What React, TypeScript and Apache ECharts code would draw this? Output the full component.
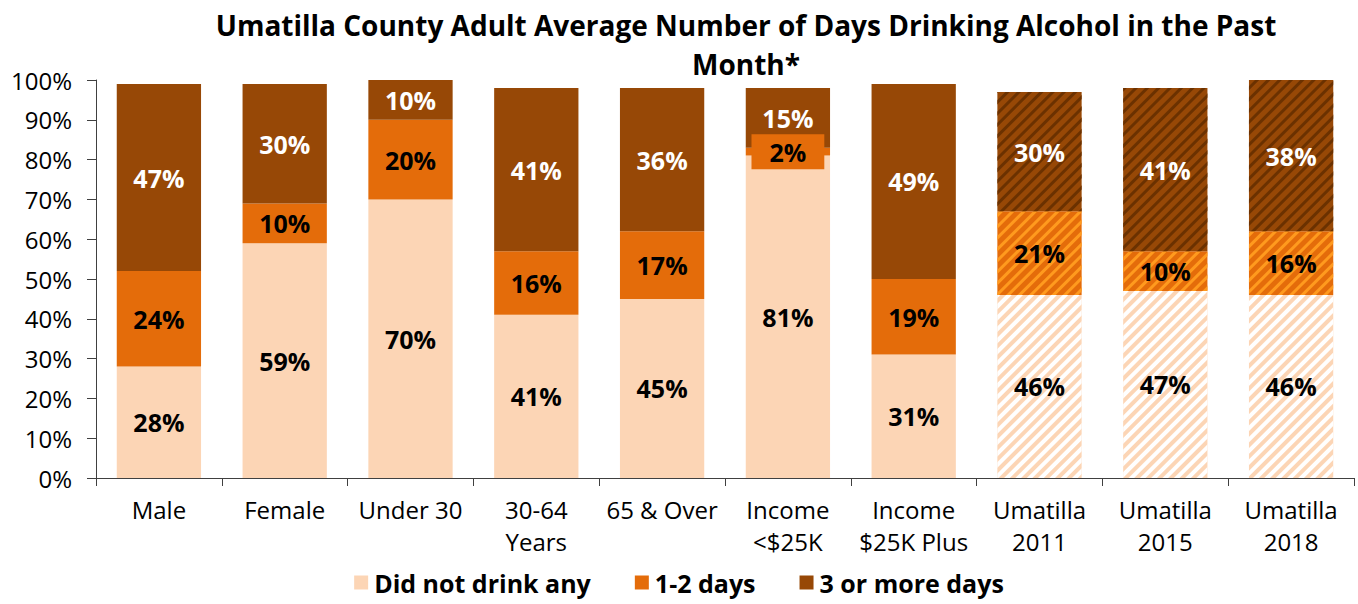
import React, { useEffect, useRef } from "react";
import * as echarts from "echarts";

const categories = ["Male", "Female", "Under 30", "30-64\nYears", "65 & Over", "Income\n<$25K", "Income\n$25K Plus", "Umatilla\n2011", "Umatilla\n2015", "Umatilla\n2018"];
const didNotDrink = [28, 59, 70, 41, 45, 81, 31, 46, 47, 46];
const oneTwoDays = [24, 10, 20, 16, 17, 2, 19, 21, 10, 16];
const threePlus = [47, 30, 10, 41, 36, 15, 49, 30, 41, 38];
const hatchedIdx = [7, 8, 9];
const yTicks = [0, 10, 20, 30, 40, 50, 60, 70, 80, 90, 100];
const titleLines = ["Umatilla County Adult Average Number of Days Drinking Alcohol in the Past", "Month*"];

const FONT = "Open Sans";
const C_LIGHT = "#FCD5B5";
const C_MID = "#E46C0A";
const C_DARK = "#974806";
const AXIS = "#404040";

function decal(color: string, dash: number[]) {
  return {
    symbol: "rect",
    symbolSize: 1,
    dashArrayX: [1, 0],
    dashArrayY: dash,
    rotation: -Math.PI / 4,
    color,
  };
}

function buildData(vals: number[], stripe: string, dash: number[], extra?: (i: number) => any) {
  return vals.map((v, i) => {
    const item: any = { value: v };
    if (hatchedIdx.includes(i)) item.itemStyle = { decal: decal(stripe, dash) };
    if (extra) {
      const e = extra(i);
      if (e) Object.assign(item, e);
    }
    return item;
  });
}

export default function App() {
  const ref = useRef<HTMLDivElement>(null);
  useEffect(() => {
    const chart = echarts.init(ref.current!, undefined, { renderer: "svg" });
    const labelBase = {
      show: true,
      position: "inside",
      fontFamily: FONT,
      fontWeight: "bold",
      fontSize: 25,
      formatter: (p: any) => p.value + "%",
    };
    const titleStyle = { fontFamily: FONT, fontWeight: "bold", fontSize: 28, lineHeight: 28, color: "#000" };
    chart.setOption({
      animation: false,
      textStyle: { fontFamily: FONT },
      title: titleLines.map((t, i) => ({
        text: t,
        left: 746,
        textAlign: "center",
        top: 11 + i * 39,
        padding: 0,
        textStyle: titleStyle,
      })),
      legend: {
        top: 570,
        left: "center",
        itemWidth: 14,
        itemHeight: 14,
        itemGap: 44,
        icon: "rect",
        padding: 0,
        textStyle: { fontFamily: FONT, fontWeight: "bold", fontSize: 25, color: "#000", padding: [0, 0, 0, 1] },
        data: ["Did not drink any", "1-2 days", "3 or more days"],
      },
      grid: { left: 96, right: 4, top: 80, bottom: 126, containLabel: false },
      xAxis: {
        type: "category",
        data: categories,
        axisLine: { show: true, lineStyle: { color: AXIS } },
        axisTick: { show: true, length: 8, lineStyle: { color: AXIS } },
        axisLabel: { fontFamily: FONT, fontSize: 24, color: "#000", margin: 15, lineHeight: 32, interval: 0 },
      },
      yAxis: {
        type: "value",
        min: 0,
        max: 100,
        interval: 10,
        axisLine: { show: true, lineStyle: { color: AXIS } },
        axisTick: { show: true, inside: false, length: 9, lineStyle: { color: AXIS } },
        splitLine: { show: false },
        axisLabel: {
          fontFamily: FONT,
          fontSize: 24,
          color: "#000",
          margin: 24,
          formatter: (v: number) => (yTicks.includes(v) ? v + "%" : ""),
        },
      },
      series: [
        {
          name: "Did not drink any",
          type: "bar",
          stack: "a",
          barWidth: "67%",
          itemStyle: { color: C_LIGHT },
          label: { ...labelBase, color: "#000" },
          data: buildData(didNotDrink, "#FFFFFF", [4, 4]),
        },
        {
          name: "1-2 days",
          type: "bar",
          stack: "a",
          itemStyle: { color: C_MID },
          label: { ...labelBase, color: "#000" },
          data: buildData(oneTwoDays, "#FF9A1E", [3, 5], (i) =>
            i === 5 ? { label: { backgroundColor: C_MID, padding: [6, 18, 4, 18] } } : null
          ),
        },
        {
          name: "3 or more days",
          type: "bar",
          stack: "a",
          itemStyle: { color: C_DARK },
          label: { ...labelBase, color: "#FFF" },
          data: buildData(threePlus, "#6B3100", [3, 5]),
        },
      ],
    });
    return () => chart.dispose();
  }, []);
  return <div ref={ref} style={{ width: 1358, height: 604, position: "absolute", left: 0, top: 0 }} />;
}
